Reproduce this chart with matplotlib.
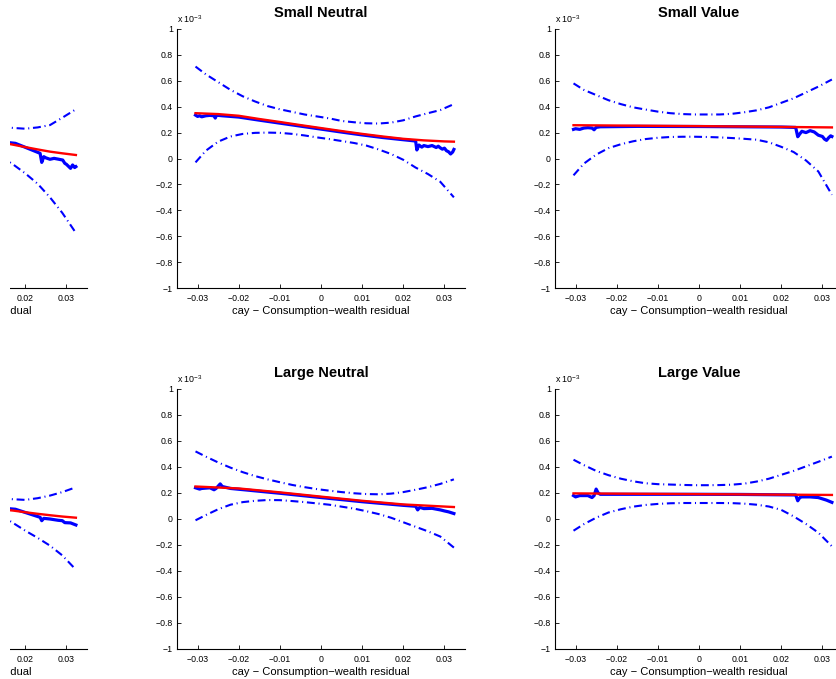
import numpy as np
import matplotlib
matplotlib.use("Agg")
import matplotlib.pyplot as plt
from matplotlib.ticker import FixedLocator, FuncFormatter
from matplotlib.patches import Rectangle

plt.rcParams['font.family'] = ['Liberation Sans', 'DejaVu Sans']
plt.rcParams['mathtext.fontset'] = 'custom'
plt.rcParams['mathtext.rm'] = 'Liberation Sans'
plt.rcParams['mathtext.it'] = 'Liberation Sans'

# ---------------- data (values in units of 1e-3) ----------------
xlabel_text = "cay \u2212 Consumption\u2212wealth residual"
titles = ["Small Growth", "Small Neutral", "Small Value",
          "Large Growth", "Large Neutral", "Large Value"]

x_ticks = [-0.03, -0.02, -0.01, 0, 0.01, 0.02, 0.03]
y_ticks = [-1, -0.8, -0.6, -0.4, -0.2, 0, 0.2, 0.4, 0.6, 0.8, 1]

band_x = [-0.0305, -0.028, -0.025, -0.022, -0.019, -0.016, -0.013, -0.010,
          -0.007, -0.004, -0.001, 0.002, 0.005, 0.008, 0.011, 0.014,
          0.017, 0.020, 0.023, 0.026, 0.029, 0.0323]
band_x_growth = [0.0139, 0.017, 0.020, 0.023, 0.026, 0.029, 0.0323]

# Small Growth (only right part visible)
sg_upper = [0.245, 0.236, 0.230, 0.240, 0.258, 0.315, 0.380]
sg_lower = [0.020, -0.045, -0.115, -0.195, -0.300, -0.420, -0.575]
sg_red_x = [0.0139, 0.017, 0.020, 0.023, 0.026, 0.029, 0.0323]
sg_red = [0.125, 0.107, 0.088, 0.070, 0.053, 0.040, 0.027]
sg_blue_x = [0.0139, 0.0176, 0.0212, 0.0236, 0.0240, 0.0245, 0.0250, 0.0260,
             0.0270, 0.0280, 0.0291, 0.0296, 0.0300, 0.0310, 0.0315, 0.0320, 0.0323]
sg_blue = [0.130, 0.117, 0.071, 0.040, -0.030, 0.014, 0.005, -0.006,
           0.001, -0.005, -0.012, -0.037, -0.045, -0.076, -0.050, -0.070, -0.063]

# Small Neutral
sn_upper = [0.71, 0.65, 0.59, 0.53, 0.48, 0.44, 0.405, 0.38, 0.36, 0.34, 0.325,
            0.31, 0.29, 0.28, 0.272, 0.27, 0.277, 0.295, 0.325, 0.35, 0.374, 0.42]
sn_lower = [-0.03, 0.06, 0.13, 0.17, 0.19, 0.198, 0.20, 0.198, 0.19, 0.178, 0.163,
            0.15, 0.135, 0.12, 0.10, 0.07, 0.035, -0.01, -0.07, -0.12, -0.18, -0.30]
sn_red_x = [-0.0305, -0.025, -0.020, -0.015, -0.010, -0.005, 0.0, 0.005, 0.010,
            0.015, 0.020, 0.025, 0.030, 0.0323]
sn_red = [0.350, 0.343, 0.330, 0.305, 0.282, 0.258, 0.235, 0.212, 0.190,
          0.170, 0.152, 0.140, 0.132, 0.130]
sn_blue_x = [-0.0305, -0.0300, -0.0295, -0.0290, -0.0280, -0.0270, -0.0260,
             -0.0257, -0.0254, -0.0250, -0.0240, -0.020, -0.015, -0.010, -0.005,
             0.0, 0.005, 0.010, 0.015, 0.020, 0.0230, 0.0233, 0.0238, 0.0245,
             0.0250, 0.0260, 0.0270, 0.0280, 0.0285, 0.0290, 0.0295, 0.0300,
             0.0305, 0.0310, 0.0315, 0.0320, 0.0323]
sn_blue = [0.335, 0.325, 0.330, 0.322, 0.330, 0.333, 0.330, 0.312, 0.335, 0.333,
           0.330, 0.320, 0.296, 0.273, 0.250, 0.227, 0.204, 0.182, 0.162, 0.145,
           0.135, 0.066, 0.104, 0.088, 0.100, 0.092, 0.100, 0.085, 0.095, 0.082,
           0.072, 0.080, 0.060, 0.052, 0.035, 0.050, 0.070]

# Small Value
sv_upper = [0.58, 0.53, 0.49, 0.45, 0.42, 0.395, 0.378, 0.362, 0.35, 0.343, 0.34,
            0.34, 0.34, 0.345, 0.357, 0.372, 0.395, 0.43, 0.465, 0.51, 0.555, 0.61]
sv_lower = [-0.13, -0.04, 0.03, 0.08, 0.11, 0.133, 0.15, 0.16, 0.166, 0.168, 0.168,
            0.166, 0.163, 0.158, 0.152, 0.145, 0.125, 0.09, 0.05, -0.015, -0.10, -0.28]
sv_red_x = [-0.0305, 0.0, 0.0323]
sv_red = [0.257, 0.250, 0.240]
sv_blue_x = [-0.0305, -0.0300, -0.0290, -0.0280, -0.0270, -0.0260, -0.0255,
             -0.0250, -0.0240, -0.015, 0.0, 0.010, 0.020, 0.0235, 0.0240, 0.0245,
             0.0250, 0.0260, 0.0270, 0.0280, 0.0290, 0.0295, 0.0300, 0.0305,
             0.0310, 0.0315, 0.0320, 0.0323]
sv_blue = [0.225, 0.230, 0.225, 0.235, 0.238, 0.235, 0.222, 0.240, 0.245, 0.248,
           0.247, 0.245, 0.243, 0.240, 0.168, 0.190, 0.210, 0.200, 0.215, 0.205,
           0.180, 0.175, 0.170, 0.150, 0.140, 0.160, 0.175, 0.170]

# Large Growth (only right part visible)
lg_upper = [0.160, 0.152, 0.147, 0.160, 0.180, 0.207, 0.244]
lg_lower = [0.030, -0.030, -0.090, -0.145, -0.205, -0.280, -0.390]
lg_red_x = [0.0139, 0.017, 0.020, 0.023, 0.026, 0.029, 0.0323]
lg_red = [0.075, 0.065, 0.052, 0.040, 0.029, 0.019, 0.010]
lg_blue_x = [0.0139, 0.0176, 0.0236, 0.0240, 0.0245, 0.0260, 0.0280, 0.0290,
             0.0296, 0.0310, 0.0323]
lg_blue = [0.085, 0.075, 0.013, -0.013, 0.005, 0.000, -0.010, -0.013,
           -0.028, -0.030, -0.046]

# Large Neutral
ln_upper = [0.52, 0.48, 0.435, 0.395, 0.36, 0.33, 0.305, 0.283, 0.262, 0.245, 0.23,
            0.218, 0.207, 0.198, 0.192, 0.19, 0.195, 0.207, 0.225, 0.245, 0.27, 0.305]
ln_lower = [-0.01, 0.03, 0.075, 0.11, 0.13, 0.14, 0.146, 0.145, 0.138, 0.13, 0.12,
            0.11, 0.095, 0.08, 0.06, 0.038, 0.01, -0.025, -0.06, -0.095, -0.135, -0.22]
ln_red_x = [-0.0305, -0.020, -0.010, 0.0, 0.010, 0.020, 0.0323]
ln_red = [0.250, 0.235, 0.205, 0.172, 0.140, 0.112, 0.092]
ln_blue_x = [-0.0305, -0.0295, -0.0290, -0.0270, -0.0260, -0.0255, -0.0245,
             -0.0240, -0.0220, -0.010, 0.0, 0.010, 0.020, 0.0230, 0.0235, 0.0240,
             0.0250, 0.0270, 0.0290, 0.0300, 0.0310, 0.0323]
ln_blue = [0.240, 0.230, 0.235, 0.240, 0.225, 0.235, 0.270, 0.250, 0.235, 0.198,
           0.165, 0.133, 0.105, 0.098, 0.070, 0.090, 0.080, 0.082, 0.070, 0.062,
           0.055, 0.042]

# Large Value
lv_upper = [0.456, 0.415, 0.37, 0.337, 0.31, 0.29, 0.275, 0.268, 0.265, 0.262, 0.26,
            0.26, 0.261, 0.264, 0.272, 0.288, 0.31, 0.34, 0.37, 0.405, 0.44, 0.48]
lv_lower = [-0.09, -0.04, 0.01, 0.05, 0.075, 0.095, 0.108, 0.116, 0.121, 0.123, 0.123,
            0.123, 0.123, 0.122, 0.118, 0.11, 0.096, 0.07, 0.02, -0.038, -0.105, -0.21]
lv_red_x = [-0.0305, 0.0323]
lv_red = [0.197, 0.185]
lv_blue_x = [-0.0305, -0.0300, -0.0290, -0.0280, -0.0270, -0.0260, -0.0255,
             -0.0250, -0.0245, -0.0240, -0.010, 0.0, 0.010, 0.0235, 0.0240,
             0.0245, 0.0250, 0.0270, 0.0290, 0.0300, 0.0310, 0.0323]
lv_blue = [0.180, 0.170, 0.180, 0.180, 0.180, 0.165, 0.180, 0.230, 0.200, 0.190,
           0.190, 0.190, 0.189, 0.185, 0.140, 0.165, 0.170, 0.170, 0.165, 0.155,
           0.145, 0.128]

panels = [
    (band_x_growth, sg_upper, sg_lower, sg_red_x, sg_red, sg_blue_x, sg_blue),
    (band_x, sn_upper, sn_lower, sn_red_x, sn_red, sn_blue_x, sn_blue),
    (band_x, sv_upper, sv_lower, sv_red_x, sv_red, sv_blue_x, sv_blue),
    (band_x_growth, lg_upper, lg_lower, lg_red_x, lg_red, lg_blue_x, lg_blue),
    (band_x, ln_upper, ln_lower, ln_red_x, ln_red, ln_blue_x, ln_blue),
    (band_x, lv_upper, lv_lower, lv_red_x, lv_red, lv_blue_x, lv_blue),
]

# ---------------- layout ----------------
W, H = 836, 679
fig = plt.figure(figsize=(W / 100, H / 100), dpi=100)

col_left_px = [-201, 177, 555]
ax_w_px = 288
row_px = [(29, 288), (389, 649)]


def fmt(v, pos):
    s = "%g" % round(v, 4)
    return s.replace("-", "\u2212")


for i, (bx, up, lo, rx, ry, blx, bly) in enumerate(panels):
    r, c = divmod(i, 3)
    top, bot = row_px[r]
    ax = fig.add_axes([col_left_px[c] / W, 1 - bot / H, ax_w_px / W, (bot - top) / H])
    ax.plot(blx, bly, color='#0000ff', lw=2.3, solid_joinstyle='round', zorder=3)
    ax.plot(rx, ry, color='#ff0000', lw=1.7, zorder=4)
    for band in (up, lo):
        ax.plot(bx, band, color='#0000ff', lw=1.5, linestyle=(0, (3.8, 1.8, 0.5, 1.8)),
                zorder=2)
    ax.set_xlim(-0.035, 0.035)
    ax.set_ylim(-1, 1)
    ax.xaxis.set_major_locator(FixedLocator(x_ticks))
    ax.yaxis.set_major_locator(FixedLocator(y_ticks))
    ax.xaxis.set_major_formatter(FuncFormatter(fmt))
    ax.yaxis.set_major_formatter(FuncFormatter(fmt))
    ax.tick_params(direction='in', length=3, width=0.6, labelsize=6.3,
                   colors='black')
    ax.tick_params(axis='x', pad=4.5)
    ax.tick_params(axis='y', pad=3)
    for s in ('top', 'right'):
        ax.spines[s].set_visible(False)
    for s in ('left', 'bottom'):
        ax.spines[s].set_linewidth(0.8)
    ax.set_xlabel(xlabel_text, fontsize=8, labelpad=2.2)
    if c == 0:
        ax.tick_params(axis='y', labelleft=False)
    else:
        ax.set_title(titles[i], fontsize=10.5, fontweight='bold', pad=8.5)
        ax.text(0.0, 1.014, r"x 10$^{-3}$", transform=ax.transAxes,
                fontsize=6.4, ha='left', va='bottom')

# blank strip at the very left edge, as in the reference crop
fig.patches.append(Rectangle((0, 0), 10 / W, 1, transform=fig.transFigure,
                             facecolor='white', edgecolor='none', zorder=10))

fig.savefig("out.png", dpi=100)
